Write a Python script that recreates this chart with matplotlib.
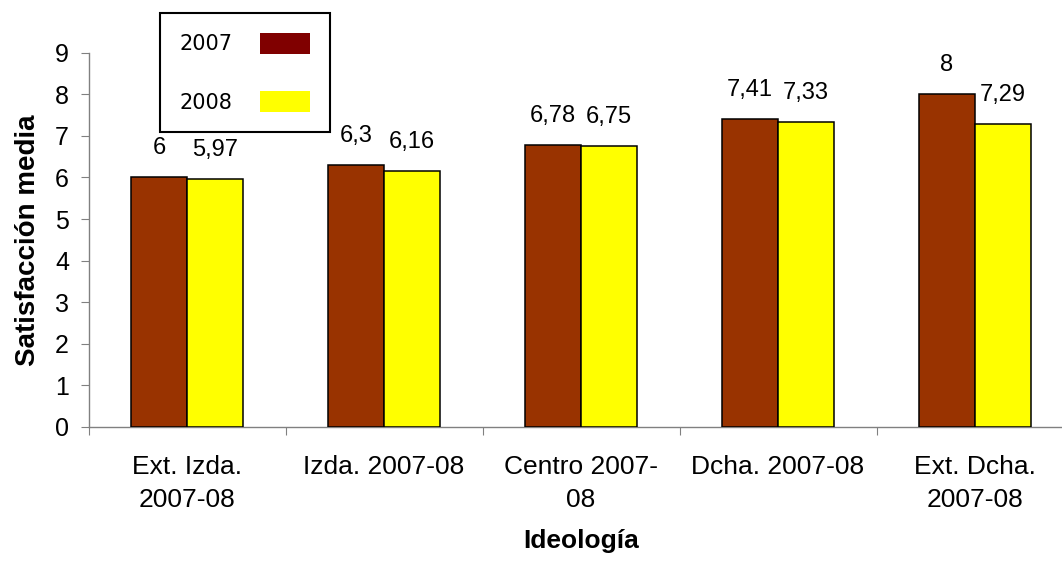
import matplotlib
matplotlib.use("Agg")
import matplotlib.pyplot as plt
import matplotlib.patches as mpatches
import numpy as np

# data
categories = ["Ext. Izda.\n2007-08", "Izda. 2007-08", "Centro 2007-\n08",
              "Dcha. 2007-08", "Ext. Dcha.\n2007-08"]
vals_2007 = [6, 6.3, 6.78, 7.41, 8]
vals_2008 = [5.97, 6.16, 6.75, 7.33, 7.29]
labels_2007 = ["6", "6,3", "6,78", "7,41", "8"]
labels_2008 = ["5,97", "6,16", "6,75", "7,33", "7,29"]
series_names = ["2007", "2008"]

plt.rcParams['font.family'] = ['Liberation Sans', 'DejaVu Sans']

W, H = 1062, 564
fig = plt.figure(figsize=(W / 100, H / 100), dpi=100)
ax = fig.add_axes([88.5 / W, (H - 427) / H, 985 / W, (427 - 52.7) / H])

x = np.arange(len(categories))
bw = 0.285
ax.bar(x - bw / 2, vals_2007, bw, color='#993300', edgecolor='black', linewidth=1.1, zorder=3)
ax.bar(x + bw / 2, vals_2008, bw, color='#FFFF00', edgecolor='black', linewidth=1.1, zorder=3)

for xi, v, s in zip(x, vals_2007, labels_2007):
    ax.annotate(s, (xi - bw / 2, v), xytext=(0, 21), textcoords='offset points',
                ha='center', va='center', fontsize=17)
for xi, v, s in zip(x, vals_2008, labels_2008):
    ax.annotate(s, (xi + bw / 2, v), xytext=(0, 21), textcoords='offset points',
                ha='center', va='center', fontsize=17)

ax.set_xlim(-0.5, len(categories) - 0.5)
ax.set_ylim(0, 9)
ax.set_yticks(range(0, 10))
ax.tick_params(axis='y', labelsize=18, length=6, color='#808080', pad=8)

# ticks at category boundaries, labels at centres
ax.set_xticks(np.arange(-0.5, len(categories), 1.0))
ax.set_xticklabels([])
ax.set_xticks(x, minor=True)
ax.set_xticklabels(categories, minor=True, fontsize=19, linespacing=1.5)
ax.tick_params(axis='x', which='major', length=6, color='#808080')
ax.tick_params(axis='x', which='minor', length=0, pad=20)

for side in ['top', 'right']:
    ax.spines[side].set_visible(False)
for side in ['left', 'bottom']:
    ax.spines[side].set_color('#808080')
    ax.spines[side].set_linewidth(1.0)

ax.set_ylabel("Satisfacción media", fontsize=20, fontweight='bold', labelpad=10)
ax.set_xlabel("Ideología", fontsize=19, fontweight='bold', labelpad=12)

handles = [mpatches.Patch(facecolor='#800000', edgecolor='none'),
           mpatches.Patch(facecolor='#FFFF00', edgecolor='none')]
leg = fig.legend(handles, series_names, loc='upper left',
                 bbox_to_anchor=(160 / W, 1 - 13 / H), bbox_transform=fig.transFigure,
                 borderaxespad=0, markerfirst=False, fancybox=False,
                 prop={'family': 'DejaVu Sans', 'size': 15},
                 handlelength=2.4, handleheight=1.2, handletextpad=1.3,
                 labelspacing=1.75, borderpad=0.95, framealpha=1)
leg.get_frame().set_edgecolor('black')
leg.get_frame().set_linewidth(1.5)

fig.savefig("out.png", dpi=100)
